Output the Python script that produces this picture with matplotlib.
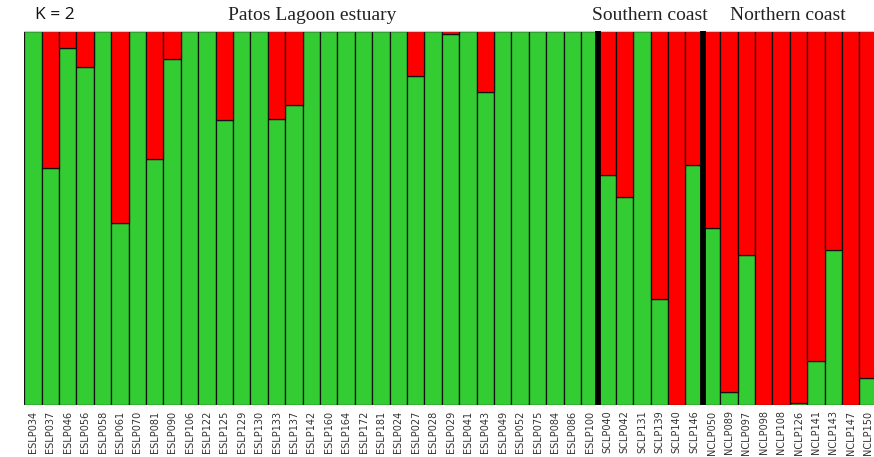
import matplotlib
matplotlib.use('Agg')
import matplotlib.pyplot as plt
import numpy as np

# individuals, grouped by sampling region
estuary = ['ESLP034', 'ESLP037', 'ESLP046', 'ESLP056', 'ESLP058', 'ESLP061',
           'ESLP070', 'ESLP081', 'ESLP090', 'ESLP106', 'ESLP122', 'ESLP125',
           'ESLP129', 'ESLP130', 'ESLP133', 'ESLP137', 'ESLP142', 'ESLP160',
           'ESLP164', 'ESLP172', 'ESLP181', 'ESLP024', 'ESLP027', 'ESLP028',
           'ESLP029', 'ESLP041', 'ESLP043', 'ESLP049', 'ESLP052', 'ESLP075',
           'ESLP084', 'ESLP086', 'ESLP100']
southern = ['SCLP040', 'SCLP042', 'SCLP131', 'SCLP139', 'SCLP140', 'SCLP146']
northern = ['NCLP050', 'NCLP089', 'NCLP097', 'NCLP098', 'NCLP108', 'NCLP126',
            'NCLP141', 'NCLP143', 'NCLP147', 'NCLP150']

# membership in cluster 1 (green); cluster 2 (red) is the rest
q_estuary = [1.00, 0.634, 0.956, 0.904, 1.00, 0.487,
             1.00, 0.658, 0.924, 1.00, 1.00, 0.762,
             1.00, 1.00, 0.766, 0.802, 1.00, 1.00,
             1.00, 1.00, 1.00, 1.00, 0.880, 1.00,
             0.992, 1.00, 0.838, 1.00, 1.00, 1.00,
             1.00, 1.00, 1.00]
q_southern = [0.614, 0.555, 1.00, 0.284, 0.00, 0.643]
q_northern = [0.472, 0.034, 0.401, 0.00, 0.00, 0.005,
              0.118, 0.415, 0.00, 0.071]

labels = estuary + southern + northern
q1 = np.array(q_estuary + q_southern + q_northern)
q2 = 1 - q1

GREEN = '#33cc33'
RED = '#ff0000'

fig = plt.figure(figsize=(8.74, 4.57), dpi=100)
ax = fig.add_axes([0.0278, 0.114, 0.9755, 0.818])

x = np.arange(len(labels))
ax.bar(x, q1, width=1.0, color=GREEN, edgecolor='#111111', linewidth=0.9)
ax.bar(x, q2, bottom=q1, width=1.0, color=RED, edgecolor='#111111',
       linewidth=0.9)

# thick black separators between regions
for b in [len(estuary), len(estuary) + len(southern)]:
    ax.axvline(b - 0.5, color='black', lw=4.2, zorder=5)

ax.set_xlim(-0.5, len(labels) - 0.5)
ax.set_ylim(0, 1)
ax.set_xticks(x)
ax.set_xticklabels(labels, rotation=90, fontsize=7, color='#333333',
                   family='DejaVu Sans')
ax.tick_params(axis='x', length=0, pad=4)
ax.set_yticks([])
for s in ['left', 'right', 'bottom']:
    ax.spines[s].set_visible(False)
ax.spines['top'].set_color('#cccccc')
ax.spines['top'].set_linewidth(0.8)

fig.text(0.040, 0.967, 'K = 2', fontsize=12.5, va='center', ha='left',
         family='Open Sans', color='#111111')
fig.text(0.357, 0.967, 'Patos Lagoon estuary', fontsize=14, va='center',
         ha='center', family='Liberation Serif', color='#222222')
fig.text(0.743, 0.967, 'Southern coast', fontsize=14, va='center',
         ha='center', family='Liberation Serif', color='#222222')
fig.text(0.901, 0.967, 'Northern coast', fontsize=14, va='center',
         ha='center', family='Liberation Serif', color='#222222')

fig.savefig('out.png', dpi=100)
